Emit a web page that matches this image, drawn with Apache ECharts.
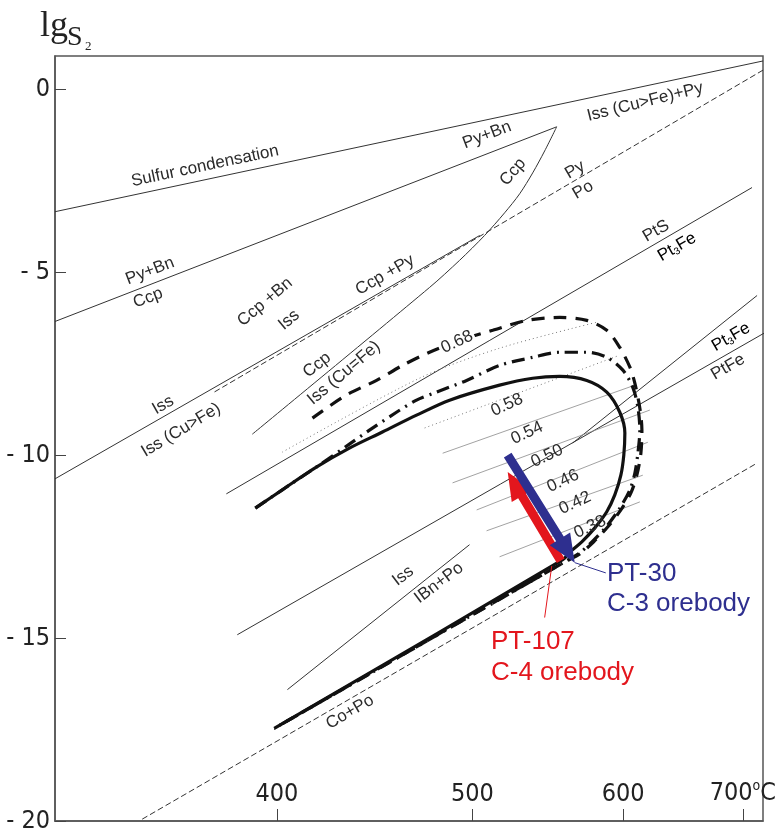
<!DOCTYPE html>
<html>
<head>
<meta charset="utf-8">
<script src="https://cdn.jsdelivr.net/npm/echarts@6/dist/echarts.min.js"></script>
<style>
  html, body { margin: 0; padding: 0; background: #fff; }
  #chart { width: 776px; height: 832px; }
</style>
</head>
<body>
<div id="chart"></div>
<script>
// axis ticks
var tickTemps = [400, 500, 600, 700];
var lgTicks = [0, -5, -10, -15, -20];

// phase boundaries, [T in degC, lg fS2]
var sulfurLine = [[313.8, -3.35], [719.2, 0.77]];
var pyBnCcpLine = [[313.8, -6.35], [552.9, -1.03]];
var ccpCurve = [[552.9, -1.03], [544.9, -1.69], [537.1, -2.29], [528.8, -2.86], [519.4, -3.38],
    [507.2, -4.00], [492.5, -4.68], [475.6, -5.42], [389.2, -9.43]];
var pyPoLine = [[719.2, 0.52], [372.4, -8.31]];
var issLine = [[313.8, -10.65], [504.3, -4.00]];
var ptsLine = [[378.2, -11.06], [708.6, -2.69]];
var ptFeLine = [[382.8, -14.91], [720.1, -6.67]];
var pt3FeLine = [[563.8, -9.67], [713.4, -5.64]];
var bnPoLine = [[404.7, -16.41], [498.3, -12.45]];
var coPoLine = [[344.9, -19.95], [713.4, -10.22]];

// isopleths
var iso068 = [[402.4, -9.92], [470.1, -7.90], [516.3, -7.08], [580.7, -6.37]];
var iso058 = [[472.9, -9.26], [595.3, -7.30]];
var iso054 = [[482.9, -9.95], [608.9, -8.09]];
var iso050 = [[488.5, -10.76], [620.5, -8.77]];
var iso046 = [[502.5, -11.50], [618.9, -9.65]];
var iso042 = [[508.4, -12.07], [615.0, -10.55]];
var iso038 = [[516.3, -12.78], [612.7, -11.28]];

// thick paths
var solidPath = [[390.5, -11.45], [402.4, -10.95], [418.0, -10.33], [433.9, -9.81], [450.5, -9.37],
    [468.5, -8.91], [486.8, -8.50], [516.3, -8.09], [537.1, -7.90], [554.9, -7.85], [573.6, -7.96],
    [587.9, -8.28], [597.5, -8.83], [601.3, -9.40], [600.5, -10.00], [598.3, -10.55], [593.8, -11.09],
    [587.9, -11.55], [579.3, -11.99], [570.1, -12.37], [561.8, -12.65], [557.0, -12.86],
    [398.8, -17.47]];
var dashDotPath = [[390.5, -11.45], [405.6, -10.82], [419.5, -10.27], [433.9, -9.70], [443.9, -9.32],
    [457.8, -8.83], [468.5, -8.50], [479.5, -8.28], [496.6, -7.96], [516.3, -7.55], [537.1, -7.33],
    [554.9, -7.19], [573.6, -7.19], [587.9, -7.33], [599.8, -7.68], [607.3, -8.15], [611.2, -8.69],
    [612.7, -9.32], [611.2, -9.95], [608.9, -10.49], [605.1, -10.95], [597.5, -11.45], [587.9, -11.94],
    [577.8, -12.35], [568.7, -12.67], [558.3, -12.92], [398.8, -17.47]];
var dashedPath = [[416.2, -8.99], [432.4, -8.36], [447.5, -7.96], [461.0, -7.55], [475.6, -7.19],
    [492.5, -6.87], [512.1, -6.59], [533.3, -6.32], [554.9, -6.24], [573.6, -6.32], [587.9, -6.59],
    [597.5, -7.06], [605.1, -7.60], [608.9, -8.04], [612.7, -8.72], [614.3, -9.32], [613.5, -9.95],
    [610.4, -10.55], [605.8, -11.04], [598.3, -11.50], [588.7, -11.96], [578.5, -12.37],
    [568.7, -12.70], [558.3, -12.92], [398.8, -17.47]];

// sample arrows [tail, tip]
var blueArrow = [[521.3, -10.00], [565.2, -12.94]];
var redArrow = [[555.6, -12.89], [521.3, -10.46]];
var blueLeader = [[565.2, -12.94], [587.2, -13.22]];
var redLeader = [[549.6, -13.03], [544.9, -14.44]];

function toU(t) { return 1000 / (t + 273.15); }
function toXY(p) { return [toU(p[0]), p[1]]; }

var ink = '#333';
var thin = { color: ink, width: 1 };
var thinDash = { color: ink, width: 1, type: [6, 3] };
var gray = { color: '#8a8a8a', width: 0.8 };
var dots = { color: '#777', width: 1, type: [1, 3] };
var thick = { color: '#111', width: 3.2 };

function lineSeries(pts, style, smooth, z) {
    return {
        type: 'line',
        data: pts.map(toXY),
        symbol: 'none',
        smooth: smooth || false,
        lineStyle: style,
        silent: true,
        z: z || 2
    };
}

function arrowSeries(pts, color) {
    return {
        type: 'custom',
        silent: true,
        z: 6,
        data: [[toU(pts[0][0]), pts[0][1], toU(pts[1][0]), pts[1][1]]],
        encode: { x: [0, 2], y: [1, 3] },
        renderItem: function (params, api) {
            var a = api.coord([api.value(0), api.value(1)]);
            var b = api.coord([api.value(2), api.value(3)]);
            var dx = b[0] - a[0], dy = b[1] - a[1];
            var len = Math.sqrt(dx * dx + dy * dy);
            var ux = dx / len, uy = dy / len, nx = -uy, ny = ux;
            var hl = 28, hw = 12, sw = 4.5;
            var bx = b[0] - ux * hl, by = b[1] - uy * hl;
            return {
                type: 'polygon',
                shape: {
                    points: [
                        [a[0] + nx * sw, a[1] + ny * sw], [bx + nx * sw, by + ny * sw],
                        [bx + nx * hw, by + ny * hw], [b[0], b[1]],
                        [bx - nx * hw, by - ny * hw], [bx - nx * sw, by - ny * sw],
                        [a[0] - nx * sw, a[1] - ny * sw]
                    ]
                },
                style: { fill: color }
            };
        }
    };
}

var labelFont = '17px "Liberation Sans", Arial, sans-serif';
function label(x, y, rot, text, extra) {
    var st = { text: text, font: labelFont, fill: '#2b2b2b', align: 'center', verticalAlign: 'middle' };
    if (extra) { for (var k in extra) st[k] = extra[k]; }
    return { type: 'text', x: x, y: y, rotation: rot * Math.PI / 180, style: st, z: 10 };
}
var subRich = {
    a: { fontSize: 17, fontFamily: 'Liberation Sans', color: '#2b2b2b' },
    s: { fontSize: 10, fontFamily: 'Liberation Sans', color: '#2b2b2b', padding: [8, 0, 0, 0] }
};
var tickFont = '"Liberation Sans Narrow", "DejaVu Sans Condensed", sans-serif';

var chart = echarts.init(document.getElementById('chart'));

var option = {
    animation: false,
    grid: {
        left: 55, right: 13, top: 56, bottom: 11,
        containLabel: false, outerBoundsMode: 'none',
        show: true, borderColor: '#555', borderWidth: 1.5
    },
    xAxis: {
        type: 'value',
        inverse: true,
        min: 1.0078,
        max: 1.7037,
        axisLine: { show: true, onZero: false, lineStyle: { color: '#555', width: 1.5 } },
        axisTick: { show: true, inside: true, length: 12, customValues: tickTemps.map(toU), lineStyle: { color: '#444' } },
        axisLabel: {
            inside: true,
            margin: 14,
            customValues: tickTemps.map(toU),
            formatter: function (v) {
                var t = Math.round(1000 / v - 273.15);
                return t === 700 ? '{n|700}{o|o}{n|C}' : '{n|' + t + '}';
            },
            rich: {
                n: { fontSize: 25, fontFamily: tickFont, color: '#222' },
                o: { fontSize: 14, fontFamily: tickFont, color: '#222', padding: [0, 0, 14, 0] }
            }
        },
        splitLine: { show: false }
    },
    yAxis: {
        type: 'value',
        min: -20,
        max: 0.905,
        axisLine: { show: true, onZero: false, lineStyle: { color: '#555', width: 1.5 } },
        axisTick: { show: true, inside: true, length: 11, customValues: lgTicks, lineStyle: { color: '#444' } },
        axisLabel: {
            margin: 5,
            customValues: lgTicks,
            fontSize: 25,
            fontFamily: tickFont,
            color: '#222',
            formatter: function (v) { return v === 0 ? '0' : '- ' + Math.abs(v); }
        },
        splitLine: { show: false }
    },
    graphic: [
        { type: 'text', x: 40, y: 27, style: { text: 'lg', font: '36px "Liberation Serif", serif', fill: '#222', align: 'left', verticalAlign: 'middle' } },
        { type: 'text', x: 67, y: 38, style: { text: 'S', font: '28px "Liberation Serif", serif', fill: '#222', align: 'left', verticalAlign: 'middle' } },
        { type: 'text', x: 85, y: 47, style: { text: '2', font: '13px "Liberation Serif", serif', fill: '#222', align: 'left', verticalAlign: 'middle' } },

        label(205, 166, 12, 'Sulfur condensation'),
        label(487, 135, 21, 'Py+Bn'),
        label(645, 102, 14, 'Iss (Cu>Fe)+Py'),
        label(513, 172, 50, 'Ccp'),
        label(575, 170, 30, 'Py'),
        label(583, 190, 30, 'Po'),
        label(656, 231, 30, 'PtS'),
        { type: 'text', x: 677, y: 247, rotation: 30 * Math.PI / 180, z: 10,
          style: { text: '{a|Pt}{s|3}{a|Fe}', rich: subRich, align: 'center', verticalAlign: 'middle' } },
        label(150, 271, 21, 'Py+Bn'),
        label(148, 298, 21, 'Ccp'),
        label(265, 302, 40, 'Ccp +Bn'),
        label(289, 320, 40, 'Iss'),
        label(385, 275, 30, 'Ccp +Py'),
        label(163, 405, 30, 'Iss'),
        label(181, 430, 31, 'Iss (Cu>Fe)'),
        label(317, 365, 38, 'Ccp'),
        label(344, 373, 40, 'Iss (Cu=Fe)'),
        label(403, 576, 37, 'Iss'),
        label(439, 583, 37, 'IBn+Po'),
        label(350, 712, 30, 'Co+Po'),
        { type: 'text', x: 731, y: 337, rotation: 30 * Math.PI / 180, z: 10,
          style: { text: '{a|Pt}{s|3}{a|Fe}', rich: subRich, align: 'center', verticalAlign: 'middle' } },
        label(728, 367, 30, 'PtFe'),

        label(457, 342, 25, '0.68', { backgroundColor: '#fff', padding: [0, 2] }),
        label(507, 405, 25, '0.58'),
        label(527, 433, 25, '0.54'),
        label(547, 456, 25, '0.50'),
        label(563, 481, 25, '0.46'),
        label(575, 503, 25, '0.42'),
        label(590, 527, 25, '0.38'),

        { type: 'text', x: 607, y: 574, z: 10, style: { text: 'PT-30', font: '26px "Liberation Sans", Arial, sans-serif', fill: '#2e2f8f', align: 'left', verticalAlign: 'middle' } },
        { type: 'text', x: 607, y: 604, z: 10, style: { text: 'C-3 orebody', font: '26px "Liberation Sans", Arial, sans-serif', fill: '#2e2f8f', align: 'left', verticalAlign: 'middle' } },
        { type: 'text', x: 491, y: 642, z: 10, style: { text: 'PT-107', font: '26px "Liberation Sans", Arial, sans-serif', fill: '#e3161d', align: 'left', verticalAlign: 'middle' } },
        { type: 'text', x: 491, y: 673, z: 10, style: { text: 'C-4 orebody', font: '26px "Liberation Sans", Arial, sans-serif', fill: '#e3161d', align: 'left', verticalAlign: 'middle' } }
    ],
    series: [
        lineSeries(sulfurLine, thin),
        lineSeries(pyBnCcpLine, thin),
        lineSeries(ccpCurve, thin, 0.3),
        lineSeries(pyPoLine, thinDash),
        lineSeries(issLine, thin),
        lineSeries(ptsLine, thin),
        lineSeries(ptFeLine, thin),
        lineSeries(pt3FeLine, thin),
        lineSeries(bnPoLine, thin),
        lineSeries(coPoLine, thinDash),
        lineSeries(iso068, dots, 0.3),
        lineSeries(iso058, dots),
        lineSeries(iso054, gray),
        lineSeries(iso050, gray),
        lineSeries(iso046, gray),
        lineSeries(iso042, gray),
        lineSeries(iso038, gray),
        lineSeries(solidPath, thick, 0.3, 3),
        lineSeries(dashDotPath, { color: '#111', width: 3.2, type: [13, 6, 2, 6] }, 0.3, 3),
        lineSeries(dashedPath, { color: '#111', width: 3.2, type: [13, 9] }, 0.3, 3),
        lineSeries(blueLeader, { color: '#2e2f8f', width: 1 }, false, 5),
        lineSeries(redLeader, { color: '#e3161d', width: 1 }, false, 5),
        arrowSeries(redArrow, '#e3161d'),
        arrowSeries(blueArrow, '#2e2f8f')
    ]
};

chart.setOption(option);
</script>
</body>
</html>
